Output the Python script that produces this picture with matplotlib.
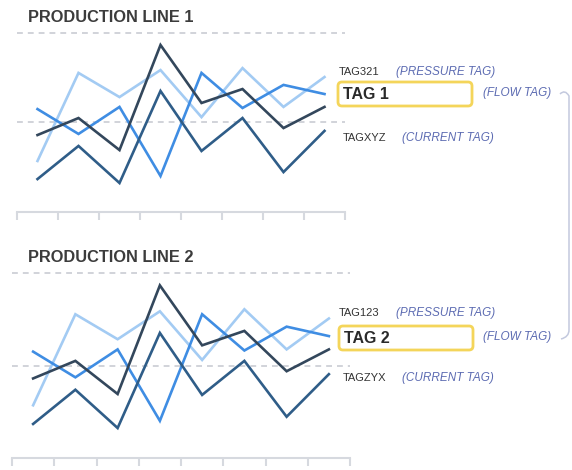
import matplotlib.pyplot as plt
from matplotlib.patches import FancyBboxPatch, PathPatch
from matplotlib.path import Path

plt.rcParams['font.family'] = ['Liberation Sans', 'DejaVu Sans']

# eight samples per production line, scaled 0-100
periods = list(range(8))
flow_main = [43, 52.5, 34.6, 93.3, 60.9, 68.7, 46.9, 58.7]
pressure = [28.5, 77.7, 64.2, 79.3, 53, 80.4, 58.7, 75.4]
flow = [57.5, 43.6, 58.7, 20.1, 77.7, 58.1, 71, 65.9]
current = [18.4, 36.9, 16.2, 67.6, 34.1, 52.5, 22.3, 45.3]

series = [
    (pressure, '#a3cbf3'),
    (flow, '#3f8de3'),
    (current, '#2f5d88'),
    (flow_main, '#33475c'),
]

titles = ['PRODUCTION LINE 1', 'PRODUCTION LINE 2']
tag_small_top = ['TAG321', 'TAG123']
tag_box = ['TAG 1', 'TAG 2']
tag_small_bottom = ['TAGXYZ', 'TAGZYX']

W, H = 572, 470
fig = plt.figure(figsize=(W / 100, H / 100), dpi=100)

# axes rectangles in pixels: left, right, top, baseline
panels = [(17, 345, 33, 212), (12, 350, 273, 458)]

for (l, r, t, b) in panels:
    ax = fig.add_axes([l / W, 1 - b / H, (r - l) / W, (b - t) / H])
    ax.set_xlim(0, 8)
    ax.set_ylim(0, 100)
    for vals, col in series:
        ax.plot([p + 0.5 for p in periods], vals, color=col, lw=1.9,
                solid_joinstyle='miter', clip_on=False)
    for yv in (100, 50):
        ax.axhline(yv, color='#c9ccd3', lw=1.2, ls=(0, (3.5, 3)), zorder=0,
                   clip_on=False)
    for s in ('top', 'right', 'left'):
        ax.spines[s].set_visible(False)
    ax.spines['bottom'].set_color('#d6d9df')
    ax.spines['bottom'].set_linewidth(1.5)
    ax.set_xticks(range(9))
    ax.set_xticklabels([])
    ax.set_yticks([])
    ax.tick_params(axis='x', direction='out', length=6, width=1.5,
                   color='#d6d9df')
    ax.patch.set_alpha(0)

# overlay in pixel coordinates for labels
ov = fig.add_axes([0, 0, 1, 1])
ov.set_xlim(0, W)
ov.set_ylim(H, 0)
ov.axis('off')
ov.patch.set_alpha(0)

note_color = '#5c6bb2'
label_rows = [(17, 72, 94, 138), (258, 313, 338, 378)]
box_x = [(338, 472), (339, 473)]

for i, (ty, y_top, y_box, y_bot) in enumerate(label_rows):
    ov.text(28, ty, titles[i], fontsize=11.8, fontweight='bold',
            color='#3c3c3c', va='center', ha='left')
    ov.text(339, y_top, tag_small_top[i], fontsize=8, color='#333333',
            va='center')
    ov.text(396, y_top, '(PRESSURE TAG)', fontsize=8.5, style='italic',
            color=note_color, va='center')
    x0, x1 = box_x[i]
    ov.add_patch(FancyBboxPatch((x0, y_box - 12), x1 - x0, 24,
                                boxstyle='round,pad=0,rounding_size=4',
                                fc='white', ec='#f4d55a', lw=2))
    ov.text(x0 + 5, y_box + 0.5, tag_box[i], fontsize=11.5, fontweight='bold',
            color='#2a2a2a', va='center')
    ov.text(483, y_box - 1, '(FLOW TAG)', fontsize=8.5, style='italic',
            color=note_color, va='center')
    ov.text(343, y_bot, tag_small_bottom[i], fontsize=8, color='#333333',
            va='center')
    ov.text(402, y_bot, '(CURRENT TAG)', fontsize=8.5, style='italic',
            color=note_color, va='center')

# bracket joining the two flow tags
verts = [(560, 94), (565, 89), (569, 96), (569, 330), (569, 337), (561, 339)]
codes = [Path.MOVETO, Path.CURVE3, Path.CURVE3, Path.LINETO, Path.CURVE3,
         Path.CURVE3]
ov.add_patch(PathPatch(Path(verts, codes), fc='none', ec='#c3c9de', lw=1.1))

fig.savefig('out.png', dpi=100)
